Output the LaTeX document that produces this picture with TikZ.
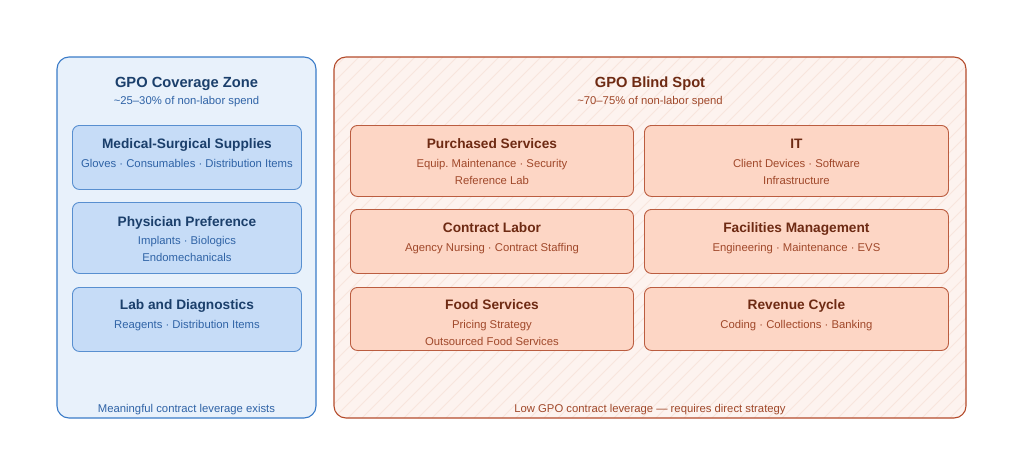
\documentclass[tikz,border=0pt]{standalone}
\usepackage{fontspec}
\setmainfont{Liberation Sans}
\usetikzlibrary{positioning}
\frenchspacing

\definecolor{zoneFill}{HTML}{E8F1FB}
\definecolor{zoneLine}{HTML}{3A7BC8}
\definecolor{zoneBox}{HTML}{C6DCF7}
\definecolor{zoneDark}{HTML}{1B3F6B}
\definecolor{zoneText}{HTML}{2F63A6}
\definecolor{spotFill}{HTML}{FDF3EF}
\definecolor{spotLine}{HTML}{B44B2B}
\definecolor{spotHatch}{HTML}{F8E5DD}
\definecolor{spotBox}{HTML}{FDD6C5}
\definecolor{spotDark}{HTML}{6E2A13}
\definecolor{spotText}{HTML}{A0482A}

\begin{document}
\begin{tikzpicture}[x=1pt, y=-1pt,
                    panel/.style={line width=1.1pt, rounded corners=12pt},
                    zonebox/.style={draw=zoneLine!85, fill=zoneBox, line width=0.9pt, rounded corners=7pt, anchor=north west},
                    spotbox/.style={draw=spotLine!90, fill=spotBox, line width=0.9pt, rounded corners=7pt, anchor=north west},
                    head/.style={font=\fontsize{14.7}{18}\selectfont\bfseries, anchor=base, inner sep=0pt},
                    sub/.style={font=\fontsize{11.3}{13}\selectfont, anchor=base, inner sep=0pt},
                    boxtitle/.style={font=\fontsize{13.7}{17}\selectfont\bfseries, anchor=base, inner sep=0pt},
                    item/.style={font=\fontsize{11.3}{14}\selectfont, anchor=base, inner sep=0pt}
                ]
                \useasboundingbox (0,0) rectangle (1024,455);
                
                % left panel
                \draw[panel, draw=zoneLine, fill=zoneFill] (57,57) rectangle (316,418);
                \node[head, text=zoneDark] (zonehead) at (186.5,87) {GPO Coverage Zone};
                \node[sub, text=zoneText] (zonesub) at (186.5,104) {\textasciitilde25--30\% of non-labor spend};
                \node[sub, text=zoneText] (zonefoot) at (186.5,412) {Meaningful contract leverage exists};
                
                \node[zonebox, minimum width=229pt, minimum height=64pt] (medsurg) at (72,125) {};
                \node[boxtitle, text=zoneDark] (medsurgT) at ([yshift=-23pt]medsurg.north) {Medical-Surgical Supplies};
                \node[item, text=zoneText] (medsurgA) at ([yshift=-42pt]medsurg.north) {Gloves · Consumables · Distribution Items};
                
                \node[zonebox, minimum width=229pt, minimum height=71pt] (physpref) at (72,202) {};
                \node[boxtitle, text=zoneDark] (physprefT) at ([yshift=-24pt]physpref.north) {Physician Preference};
                \node[item, text=zoneText] (physprefA) at ([yshift=-42pt]physpref.north) {Implants · Biologics};
                \node[item, text=zoneText] (physprefB) at ([yshift=-59pt]physpref.north) {Endomechanicals};
                
                \node[zonebox, minimum width=229pt, minimum height=64pt] (labdiag) at (72,287) {};
                \node[boxtitle, text=zoneDark] (labdiagT) at ([yshift=-22pt]labdiag.north) {Lab and Diagnostics};
                \node[item, text=zoneText] (labdiagA) at ([yshift=-41pt]labdiag.north) {Reagents · Distribution Items};
                
                % right panel with hatching
                \fill[panel, spotFill] (334,57) rectangle (966,418);
                \begin{scope}
                \clip[rounded corners=12pt] (334,57) rectangle (966,418);
                \foreach \i in {-364,-350,...,640}
                    \draw[spotHatch, line width=0.8pt] (334+\i,418) -- ++(361,-361);
                \end{scope}
                \draw[panel, draw=spotLine] (334,57) rectangle (966,418);
                \node[head, text=spotDark] (spothead) at (650,87) {GPO Blind Spot};
                \node[sub, text=spotText] (spotsub) at (650,104) {\textasciitilde70--75\% of non-labor spend};
                \node[sub, text=spotText] (spotfoot) at (650,412) {Low GPO contract leverage --- requires direct strategy};
                
                \node[spotbox, minimum width=283pt, minimum height=71pt] (purch) at (350,125) {};
                \node[boxtitle, text=spotDark] (purchT) at ([yshift=-23pt]purch.north) {Purchased Services};
                \node[item, text=spotText] (purchA) at ([yshift=-42pt]purch.north) {Equip. Maintenance · Security};
                \node[item, text=spotText] (purchB) at ([yshift=-59pt]purch.north) {Reference Lab};
                
                \node[spotbox, minimum width=304pt, minimum height=71pt] (it) at (644,125) {};
                \node[boxtitle, text=spotDark] (itT) at ([yshift=-23pt]it.north) {IT};
                \node[item, text=spotText] (itA) at ([yshift=-42pt]it.north) {Client Devices · Software};
                \node[item, text=spotText] (itB) at ([yshift=-59pt]it.north) {Infrastructure};
                
                \node[spotbox, minimum width=283pt, minimum height=64pt] (labor) at (350,209) {};
                \node[boxtitle, text=spotDark] (laborT) at ([yshift=-23pt]labor.north) {Contract Labor};
                \node[item, text=spotText] (laborA) at ([yshift=-42pt]labor.north) {Agency Nursing · Contract Staffing};
                
                \node[spotbox, minimum width=304pt, minimum height=64pt] (facil) at (644,209) {};
                \node[boxtitle, text=spotDark] (facilT) at ([yshift=-23pt]facil.north) {Facilities Management};
                \node[item, text=spotText] (facilA) at ([yshift=-42pt]facil.north) {Engineering · Maintenance · EVS};
                
                \node[spotbox, minimum width=283pt, minimum height=63pt] (food) at (350,287) {};
                \node[boxtitle, text=spotDark] (foodT) at ([yshift=-22pt]food.north) {Food Services};
                \node[item, text=spotText] (foodA) at ([yshift=-41pt]food.north) {Pricing Strategy};
                \node[item, text=spotText] (foodB) at ([yshift=-58pt]food.north) {Outsourced Food Services};
                
                \node[spotbox, minimum width=304pt, minimum height=63pt] (revcyc) at (644,287) {};
                \node[boxtitle, text=spotDark] (revcycT) at ([yshift=-22pt]revcyc.north) {Revenue Cycle};
                \node[item, text=spotText] (revcycA) at ([yshift=-41pt]revcyc.north) {Coding · Collections · Banking};
\end{tikzpicture}
\end{document}
